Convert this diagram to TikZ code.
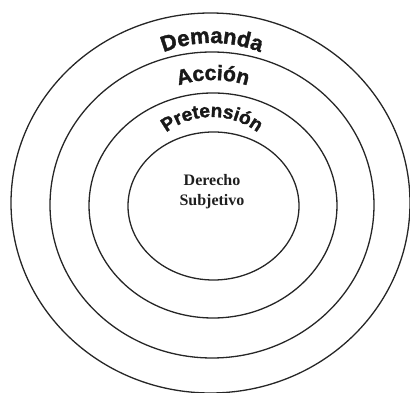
\documentclass[tikz,border=0pt]{standalone}
\usepackage{fontspec}
\setmainfont{Liberation Serif}
\newfontfamily\arcfont{Liberation Sans}[BoldFont=Liberation Sans Bold, BoldFeatures={FakeBold=1.6}]
\usetikzlibrary{decorations.text}
\tikzset{
  ring/.style={draw=black!85, line width=1.3pt},
  arclabel/.style={decorate, decoration={text along path, text align=center,
     text format delimiters={|}{|}, text color=black!90}},
  core/.style={font=\bfseries\fontsize{16pt}{20pt}\selectfont, align=center, inner sep=0pt, text=black!88}
}
\begin{document}
\begin{tikzpicture}[x=1pt,y=1pt]
\useasboundingbox (0,0) rectangle (410,393);
\coordinate (c1) at (210.5,190);
\coordinate (c2) at (212,188);
\coordinate (c3) at (213,187.5);
\coordinate (c4) at (213.5,187);
\coordinate (tD) at (212,220);
\coordinate (tA) at (213,203);
\coordinate (tP) at (212,201);
\draw[ring] (c1) ellipse [x radius=199.5pt, y radius=190pt];
\draw[ring] (c2) ellipse [x radius=162pt, y radius=153pt];
\draw[ring] (c3) ellipse [x radius=124pt, y radius=112.5pt];
\draw[ring] (c4) ellipse [x radius=85.5pt, y radius=74pt];
\path[arclabel, decoration={text={|\arcfont\bfseries\fontsize{22pt}{22pt}\selectfont|Demanda}}]
  ([shift={(135:130pt)}]tD) arc[start angle=135, end angle=45, radius=130pt];
\path[arclabel, decoration={text={|\arcfont\bfseries\fontsize{21pt}{21pt}\selectfont|Acción}}]
  ([shift={(135:110pt)}]tA) arc[start angle=135, end angle=45, radius=110pt];
\path[arclabel, decoration={text={|\arcfont\bfseries\fontsize{19pt}{19pt}\selectfont|Pretensión}}]
  ([shift={(160:75pt)}]tP) arc[start angle=160, end angle=20, radius=75pt];
\node[core] (dr) at (212,201) {Derecho\\Subjetivo};
\end{tikzpicture}
\end{document}
